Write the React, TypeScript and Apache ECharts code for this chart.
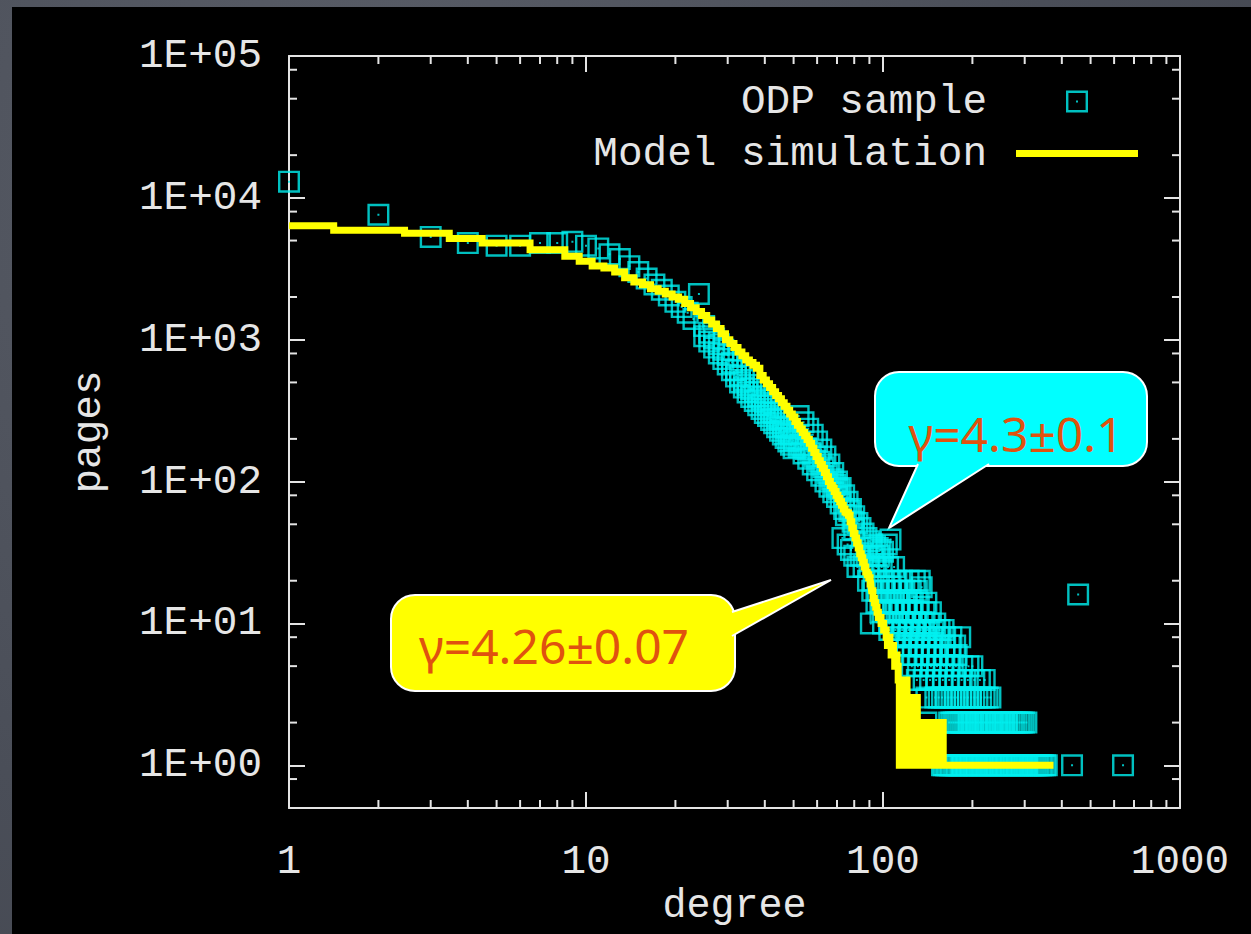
import React, { useEffect, useRef } from 'react';
import * as echarts from 'echarts';

// ODP sample, low degrees: [degree, number of pages]
const sampleHead: [number, number][] = [
  [1, 13000], [2, 7600], [3, 5300], [4, 4800], [5, 4600], [6, 4600], [7, 4800], [8, 4800], [9, 4900], [10, 4600],
  [11, 4400], [12, 4000], [13, 3700], [14, 3300], [15, 3000], [16, 2700], [17, 2450], [18, 2250], [19, 2050], [20, 1850],
  [21, 1700], [22, 1550], [23, 1400], [24, 2100], [25, 1250], [26, 1120], [27, 1020], [28, 930], [29, 850], [30, 780],
  [31, 690], [32, 610], [33, 560], [34, 520], [35, 480], [36, 450], [37, 430], [38, 400], [39, 380], [40, 360],
  [41, 345], [42, 310], [43, 305], [44, 280], [45, 275], [46, 245], [47, 240], [48, 220], [49, 215], [50, 195],
  [51, 200], [52, 175], [53, 180], [54, 158], [55, 170], [56, 145], [57, 160], [58, 132], [59, 150], [60, 120],
  [61, 138], [62, 110], [63, 126], [64, 100], [65, 115], [66, 92], [67, 104], [68, 84], [69, 95], [70, 78],
  [71, 88], [72, 70], [73, 40], [74, 64], [75, 58], [76, 36], [77, 62], [78, 33], [79, 52], [80, 46],
];

// ODP sample, second group of pages in the middle range: [degree, number of pages]
const sampleSpread: [number, number][] = [
  [25, 1060], [26, 970], [27, 880], [28, 800], [29, 730], [30, 670], [31, 610], [32, 550], [33, 500], [34, 460],
  [35, 425], [36, 395], [37, 370], [38, 345], [39, 325], [40, 305], [41, 290], [42, 272], [43, 258], [44, 242],
  [45, 228], [46, 215], [47, 203], [48, 192], [49, 182], [50, 172],
  [52, 290], [54, 262], [56, 236], [58, 214], [60, 192], [62, 168], [64, 150], [66, 132], [68, 115], [70, 100],
  [72, 90], [74, 80], [76, 72], [78, 64], [80, 57], [82, 51], [84, 47], [86, 43], [88, 40], [90, 38],
  [92, 36], [94, 35], [96, 34], [98, 33], [100, 32], [103, 36], [106, 39],
];

// ODP sample tail: [number of pages, degrees that have it]
const sampleTailRows: [number, number[]][] = [
  [30, [80, 84, 88, 93, 97]],
  [25, [82, 86, 90, 95, 99, 104, 109]],
  [20, [89, 93, 97, 101, 106, 111, 116, 122, 128, 133]],
  [18, [135]],
  [17, [92, 96, 101, 106, 112, 118, 124, 130]],
  [16, [454]],
  [14, [95, 99, 104, 109, 114, 120, 126, 132, 140]],
  [12, [98, 103, 108, 113, 119, 125, 131, 138, 145]],
  [10, [91, 100, 105, 111, 117, 123, 129, 136, 143, 150]],
  [9, [105, 110, 116, 122, 128, 134, 141, 148, 155, 160]],
  [8, [110, 115, 121, 127, 133, 140, 147, 154, 162, 170, 182]],
  [7, [115, 120, 126, 132, 139, 146, 153, 161, 168, 175]],
  [6, [120, 126, 132, 139, 146, 153, 161, 169, 177]],
  [5, [125, 131, 138, 145, 152, 160, 168, 176, 185, 194, 200]],
  [4, [130, 137, 144, 151, 159, 167, 175, 184, 193, 203, 212, 220]],
  [3, [140, 150, 154, 158, 162, 166, 170, 174, 178, 183, 188, 193, 198, 203, 208, 214, 220, 225, 230]],
  [2, [140, 167, 170, 173, 176, 179, 182, 185, 188, 191, 194, 198, 201, 205, 208, 212, 216, 220, 223, 227,
    231, 235, 240, 244, 248, 253, 257, 262, 267, 272, 277, 282, 288, 293, 298, 304]],
  [1, [158, 160, 163, 165, 168, 170, 173, 176, 178, 181, 184, 187, 190, 193, 196, 199, 202, 205, 208, 212,
    215, 218, 222, 225, 229, 232, 236, 240, 243, 247, 251, 255, 259, 263, 268, 272, 276, 281, 285, 290,
    294, 299, 304, 309, 314, 319, 324, 329, 334, 340, 345, 351, 356, 433, 643]],
];

// Model simulation: [degree, number of pages], drawn as a histogram step line
const modelSimulation: [number, number][] = [
  [1, 6350], [2, 5900], [3, 5620], [4, 5170], [5, 4800], [6, 4800], [7, 4300], [8, 4300], [9, 3870], [10, 3570],
  [11, 3310], [12, 3200], [13, 3000], [14, 2730], [15, 2550], [16, 2440], [17, 2290], [18, 2200], [19, 2100], [20, 2000],
  [21, 1930], [22, 1800], [23, 1680], [24, 1580], [25, 1480], [26, 1380], [27, 1290], [28, 1200], [29, 1100], [30, 1000],
  [31, 940], [32, 880], [33, 820], [34, 770], [35, 720], [36, 690], [37, 660], [38, 630], [39, 560], [40, 520],
  [41, 490], [42, 460], [43, 430], [44, 405], [45, 384], [46, 360], [47, 340], [48, 318], [49, 300], [50, 285],
  [51, 265], [52, 250], [53, 235], [54, 222], [55, 210], [56, 198], [57, 186], [58, 172], [59, 160], [60, 150],
  [61, 140], [62, 132], [63, 124], [64, 116], [65, 108], [66, 100], [67, 94], [68, 90], [69, 85], [70, 80],
  [71, 76], [72, 72], [73, 68], [74, 64], [75, 61], [76, 60], [77, 58], [78, 52], [79, 47], [80, 43],
  [81, 40], [82, 37], [83, 34], [84, 31], [85, 29], [86, 27], [87, 25], [88, 23], [89, 22], [90, 21],
  [91, 19], [92, 17], [93, 15], [94, 14], [95, 13], [96, 12], [97, 11], [98, 11], [99, 10], [100, 10],
  [101, 9], [102, 9], [103, 8], [104, 7], [105, 8], [106, 7], [107, 6], [108, 7], [109, 6], [110, 5],
  [111, 6], [112, 5], [113, 4], [114, 1], [115, 3], [116, 4], [117, 2], [118, 3], [119, 1], [120, 4],
  [121, 2], [122, 1], [123, 3], [124, 2], [125, 1], [126, 3], [127, 1], [128, 2], [129, 1], [130, 3],
  [131, 1], [132, 2], [133, 1], [134, 2], [135, 1], [136, 2], [137, 1], [138, 2], [139, 1], [140, 2],
  [141, 1], [142, 1], [143, 2], [144, 1], [145, 2], [146, 1], [147, 1], [148, 2], [149, 1], [150, 2],
  [151, 1], [152, 1], [153, 2], [154, 1], [155, 1], [156, 2], [157, 1], [158, 1], [159, 2], [160, 1],
  [375, 1],
];

// Minor tick positions (gnuplot style: 2..9 on degree, 2/5/8 on pages)
const degreeMinorTicks = [2, 3, 4, 5, 6, 7, 8, 9, 20, 30, 40, 50, 60, 70, 80, 90, 200, 300, 400, 500, 600, 700, 800, 900];
const pagesMinorTicks = [0.8, 2, 5, 8, 20, 50, 80, 200, 500, 800, 2000, 5000, 8000, 20000, 50000, 80000];

const degreeRange = [1, 1000];
const pagesRange = [0.5, 100000];

const AXIS_FONT = '"Liberation Mono", "DejaVu Sans Mono", monospace';
const CALLOUT_FONT = '"Noto Sans", "DejaVu Sans", sans-serif';
const FRAME = '#e4e4e4';
const TEXT = '#e6e6e6';
const CYAN = '#00f0f0';
const YELLOW = '#ffff00';
const ORANGE = '#e0520f';
const SQUARE = 'path://M0,0H22V22H0Z M2.4,2.4V19.6H19.6V2.4Z M10,10H12V12H10Z';
const LINE_KEY = 'path://M0,0H122V7H0Z';

const odpSample: [number, number][] = [
  ...sampleHead,
  ...sampleSpread,
  ...sampleTailRows.flatMap(([pages, degrees]) => degrees.map((d) => [d, pages] as [number, number])),
];

const isPowerOfTen = (v: number) => {
  const e = Math.round(Math.log10(v));
  return Math.abs(v / Math.pow(10, e) - 1) < 1e-6;
};
const pagesLabel = (v: number) => {
  if (!isPowerOfTen(v)) return '';
  const e = Math.round(Math.log10(v));
  return '1E+' + String(e).padStart(2, '0');
};
const degreeLabel = (v: number) => (isPowerOfTen(v) ? String(Math.round(v)) : '');

const majorTick = { show: true, inside: true, length: 16, lineStyle: { color: FRAME, width: 2 } };
const frameLine = { show: true, lineStyle: { color: FRAME, width: 2 } };

function minorTicks(axis: 'x' | 'y', values: number[]) {
  return {
    type: 'custom',
    name: axis + '-minor',
    coordinateSystem: 'cartesian2d',
    silent: true,
    z: 6,
    data: values.map((v) => (axis === 'x' ? [v, 1] : [1, v])),
    renderItem: (params: any, api: any) => {
      const cs = params.coordSys;
      const style = { stroke: FRAME, lineWidth: 2 };
      if (axis === 'x') {
        const x = api.coord([api.value(0), 1])[0];
        return {
          type: 'group',
          children: [
            { type: 'line', shape: { x1: x, y1: cs.y + cs.height, x2: x, y2: cs.y + cs.height - 8 }, style },
            { type: 'line', shape: { x1: x, y1: cs.y, x2: x, y2: cs.y + 8 }, style },
          ],
        };
      }
      const y = api.coord([1, api.value(1)])[1];
      return {
        type: 'group',
        children: [
          { type: 'line', shape: { x1: cs.x, y1: y, x2: cs.x + 8, y2: y }, style },
          { type: 'line', shape: { x1: cs.x + cs.width, y1: y, x2: cs.x + cs.width - 8, y2: y }, style },
        ],
      };
    },
  };
}

function callout(
  box: { x: number; y: number; w: number; h: number },
  base: [number, number][],
  tip: [number, number],
  fill: string,
  text: string,
  textPos: [number, number]
) {
  return {
    type: 'group',
    z: 50,
    children: [
      {
        type: 'rect',
        shape: { x: box.x, y: box.y, width: box.w, height: box.h, r: 24 },
        style: { fill, stroke: '#ffffff', lineWidth: 2 },
      },
      {
        type: 'polygon',
        shape: { points: [base[0], tip, base[1]] },
        style: { fill, stroke: null },
      },
      {
        type: 'polyline',
        shape: { points: [base[0], tip, base[1]] },
        style: { stroke: '#ffffff', lineWidth: 2, fill: null },
      },
      {
        type: 'text',
        x: textPos[0],
        y: textPos[1],
        style: {
          text,
          fill: ORANGE,
          font: `48px ${CALLOUT_FONT}`,
          align: 'center',
          verticalAlign: 'middle',
        },
      },
    ],
  };
}

export default function App() {
  const ref = useRef<HTMLDivElement>(null);

  useEffect(() => {
    if (!ref.current) return;
    const chart = echarts.init(ref.current, undefined, { renderer: 'svg' });

    const xBase = {
      type: 'log',
      min: degreeRange[0],
      max: degreeRange[1],
      axisLine: frameLine,
      axisTick: majorTick,
      splitLine: { show: false },
      minorTick: { show: false },
    };
    const yBase = {
      type: 'log',
      min: pagesRange[0],
      max: pagesRange[1],
      axisLine: frameLine,
      axisTick: majorTick,
      splitLine: { show: false },
      minorTick: { show: false },
    };

    chart.setOption({
      animation: false,
      backgroundColor: '#000000',
      grid: { left: 277, top: 49, right: 71, bottom: 126, outerBoundsMode: 'none', containLabel: false },
      xAxis: [
        {
          ...xBase,
          position: 'bottom',
          name: 'degree',
          nameLocation: 'middle',
          nameGap: 80,
          nameTextStyle: { color: TEXT, fontFamily: AXIS_FONT, fontSize: 40, lineHeight: 30 },
          axisLabel: {
            color: TEXT,
            fontFamily: AXIS_FONT,
            fontSize: 41,
            margin: 33,
            formatter: degreeLabel,
          },
        },
        { ...xBase, position: 'top', axisLabel: { show: false } },
      ],
      yAxis: [
        {
          ...yBase,
          position: 'left',
          name: 'pages',
          nameLocation: 'middle',
          nameRotate: 90,
          nameGap: 180,
          nameTextStyle: { color: TEXT, fontFamily: AXIS_FONT, fontSize: 41 },
          axisLabel: {
            color: TEXT,
            fontFamily: AXIS_FONT,
            fontSize: 41,
            margin: 27,
            padding: [6, 0, 0, 0],
            formatter: pagesLabel,
          },
        },
        { ...yBase, position: 'right', axisLabel: { show: false } },
      ],
      legend: {
        orient: 'vertical',
        right: 108,
        top: 69,
        align: 'right',
        itemWidth: 122,
        itemHeight: 22,
        itemGap: 11,
        selectedMode: false,
        textStyle: {
          color: TEXT,
          fontFamily: AXIS_FONT,
          fontSize: 41,
          lineHeight: 41,
          padding: [0, 24, 0, 0],
        },
        data: [{ name: 'ODP sample' }, { name: 'Model simulation', icon: LINE_KEY }],
      },
      series: [
        {
          name: 'ODP sample',
          type: 'scatter',
          data: odpSample,
          symbol: SQUARE,
          symbolSize: 22,
          itemStyle: { color: CYAN },
          clip: false,
          silent: true,
          z: 3,
        },
        {
          name: 'Model simulation',
          type: 'line',
          data: modelSimulation,
          step: 'middle',
          symbol: 'none',
          showSymbol: false,
          itemStyle: { color: YELLOW },
          lineStyle: { color: YELLOW, width: 7, cap: 'butt', join: 'miter' },
          silent: true,
          z: 4,
        },
        minorTicks('x', degreeMinorTicks),
        minorTicks('y', pagesMinorTicks),
      ],
      graphic: [
        callout(
          { x: 863, y: 365, w: 272, h: 94 },
          [[906, 457], [977, 457]],
          [877, 521],
          '#00ffff',
          'γ=4.3±0.1',
          [1004, 426]
        ),
        callout(
          { x: 379, y: 588, w: 344, h: 96 },
          [[720, 605], [720, 629]],
          [819, 573],
          '#ffff00',
          'γ=4.26±0.07',
          [542, 638]
        ),
      ],
    });

    return () => chart.dispose();
  }, []);

  return (
    <div
      style={{
        position: 'fixed',
        left: 0,
        top: 0,
        width: 1251,
        height: 934,
        overflow: 'hidden',
        background: 'radial-gradient(circle at 30% 20%, #5a5e68 0%, #4a4e58 60%, #43464f 100%)',
      }}
    >
      <div
        ref={ref}
        style={{ position: 'absolute', left: 12, top: 7, width: 1239, height: 927, background: '#000' }}
      />
    </div>
  );
}
